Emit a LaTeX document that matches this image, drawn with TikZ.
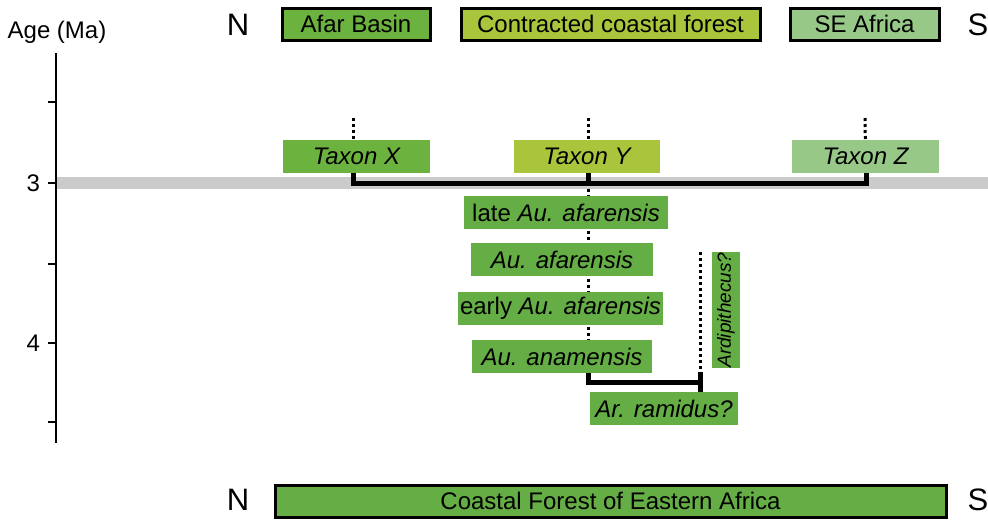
\documentclass[tikz,border=0pt]{standalone}
\usepackage{fontspec}
\setmainfont{Liberation Sans}
\usetikzlibrary{positioning}
\definecolor{afargreen}{HTML}{6CB23E}
\definecolor{contrgreen}{HTML}{A9C53B}
\definecolor{seagreen}{HTML}{97C887}
\definecolor{taxgreen}{HTML}{65AD45}
\definecolor{bandgray}{HTML}{CBCBCB}
\begin{document}
\begin{tikzpicture}[x=0.5pt,y=-0.5pt,
    region/.style={draw=black, line width=1.5pt, minimum height=16pt, inner sep=0pt,
      font=\fontsize{12}{14}\selectfont},
    taxon/.style={minimum height=16.5pt, inner sep=0pt, font=\fontsize{12}{14}\selectfont},
    compass/.style={font=\fontsize{15.5}{18}\selectfont},
    agelabel/.style={font=\fontsize{12}{14}\selectfont},
    bracket/.style={line width=2.5pt},
    lineage/.style={line width=1.5pt, dash pattern=on 1.5pt off 1.5pt}]
  \useasboundingbox (0,0) rectangle (988,525);
  % Banda de 3 Ma
  \fill[bandgray] (57,177) rectangle (988,189);
  % Eje de edades
  \draw[line width=1.1pt] (56,53) -- (56,443);
  \foreach \y in {102,183,264,343,422}
    \draw[line width=1.1pt] (48,\y) -- (56,\y);
  \node[agelabel, anchor=east] (t3) at (47,183) {3};
  \node[agelabel, anchor=east] (t4) at (47,343) {4};
  \node[agelabel] (age) at (57,32) {Age (Ma)};
  % Regiones arriba
  \node[compass] (ntop) at (238,25) {N};
  \node[compass] (stop) at (978,25) {S};
  \node[region, fill=afargreen, minimum width=74pt] (afar) at (356,24) {Afar Basin};
  \node[region, fill=contrgreen, minimum width=149.5pt] (contr) at (610.5,24) {Contracted coastal forest};
  \node[region, fill=seagreen, minimum width=74.5pt] (sea) at (864.5,24) {SE Africa};
  % Puntos de union
  \coordinate (jx) at (353,183);
  \coordinate (jy) at (588,183);
  \coordinate (jz) at (866,183);
  \coordinate (jan) at (588,382);
  \coordinate (jar) at (700,382);
  \coordinate (ardtop) at (700,252);
  \coordinate (ardbot) at (700,372);
  % Linajes punteados
  \draw[lineage] (353,118) -- (jx);
  \draw[lineage] (588,118) -- (jy);
  \draw[lineage] (865,118) -- (jz);
  \draw[lineage] (jy) -- (588,373);
  \draw[lineage] (ardtop) -- (ardbot);
  % Taxones a 3 Ma
  \node[taxon, fill=afargreen, minimum width=73.5pt] (taxX) at (356.5,156.5) {\itshape Taxon X};
  \node[taxon, fill=contrgreen, minimum width=73pt] (taxY) at (587,156.5) {\itshape Taxon Y};
  \node[taxon, fill=seagreen, minimum width=73.5pt] (taxZ) at (865.5,156.5) {\itshape Taxon Z};
  \draw[bracket] (jx |- taxX.south) -- (jx) -- (jz) -- (jz |- taxZ.south);
  \draw[bracket] (jy |- taxY.south) -- (jy);
  % Secuencia de Australopithecus
  \node[taxon, fill=taxgreen, minimum width=102pt] (late) at (566,212.5) {late \itshape Au. afarensis};
  \node[taxon, fill=taxgreen, minimum width=91pt] (afa) at (562,259.5) {\itshape Au. afarensis};
  \node[taxon, fill=taxgreen, minimum width=102.5pt] (early) at (560.5,308.5) {early \itshape Au. afarensis};
  \node[taxon, fill=taxgreen, minimum width=90pt] (anam) at (562,356.5) {\itshape Au. anamensis};
  \node[taxon, fill=taxgreen, minimum width=74pt] (ram) at (664,408.5) {\itshape Ar. ramidus?};
  \node[taxon, fill=taxgreen, minimum width=58pt, minimum height=14pt, rotate=90,
    font=\fontsize{9.5}{11}\selectfont] (ardi) at (726,310) {\itshape Ardipithecus?};
  \draw[bracket] (jy |- anam.south) -- (jan) -- (jar);
  \draw[bracket] (ardbot) -- (jar |- ram.north);
  % Region de abajo
  \node[compass] (nbot) at (238,500) {N};
  \node[compass] (sbot) at (978,500) {S};
  \node[region, fill=taxgreen, minimum width=335.5pt] (coast) at (610.5,501) {Coastal Forest of Eastern Africa};
\end{tikzpicture}
\end{document}
